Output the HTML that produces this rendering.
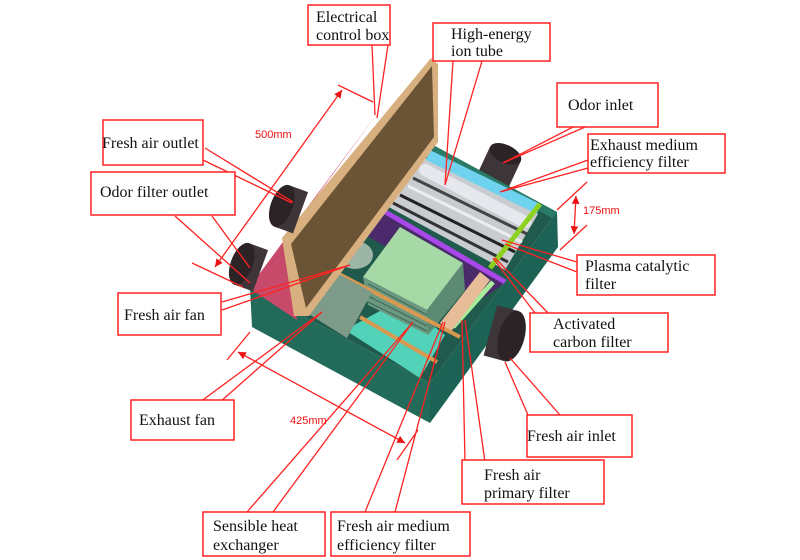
<!DOCTYPE html>
<html><head><meta charset="utf-8"><style>
html,body{margin:0;padding:0;background:#fff;}
svg{display:block;}
.lb{fill:#fff;stroke:#f22;stroke-width:1.5;}
.t{font-family:"Liberation Serif",serif;font-size:16px;fill:#111;}
.r{stroke:#f22;stroke-width:1.3;fill:none;}
.m{font-family:"Liberation Sans",sans-serif;font-size:11px;fill:#e11;}
</style></head><body>
<svg width="800" height="560" viewBox="0 0 800 560" xmlns="http://www.w3.org/2000/svg">
<defs>
<marker id="a" markerWidth="8" markerHeight="8" refX="6" refY="3" orient="auto"><path d="M0,0 L6,3 L0,6z" fill="#e11"/></marker>
<marker id="b" markerWidth="8" markerHeight="8" refX="0" refY="3" orient="auto"><path d="M6,0 L0,3 L6,6z" fill="#e11"/></marker>
</defs>
<!-- back duct -->
<g transform="rotate(25 497 172)">
<rect x="480" y="152" width="34" height="40" fill="#3e3538"/>
<ellipse cx="497" cy="152" rx="17" ry="9" fill="#2b2326"/>
</g>
<!-- box -->
<polygon points="250,288 433,145 557,212 430,383" fill="#1f5a4c"/>
<polygon points="250,288 430,383 430,423 252,327" fill="#226b5a"/>
<polygon points="430,383 557,212 558,247 430,423" fill="#1d6355"/>
<polygon points="433,145 557,212 552,218 433,155" fill="#2a7a68"/>
<polygon points="345,330 400,300 445,335 420,378" fill="#52d2b8"/>
<polygon points="360,232 382,210 505,283 480,300" fill="#4a2a6a"/>
<polygon points="425,158 538,214 505,270 385,205" fill="#c9ccd0"/>
<g stroke-width="3">
<line x1="400" y1="195" x2="515" y2="252" stroke="#222"/>
<line x1="393" y1="203" x2="508" y2="262" stroke="#333"/>
<line x1="408" y1="186" x2="522" y2="242" stroke="#eee"/>
<line x1="413" y1="178" x2="527" y2="234" stroke="#444"/>
</g>
<line x1="425" y1="170" x2="525" y2="222" stroke="#e6e8ee" stroke-width="12" stroke-linecap="round"/>
<polygon points="430,150 540,204 537,214 426,160" fill="#6fd2ee"/>
<line x1="382" y1="210" x2="505" y2="282" stroke="#a848e8" stroke-width="5"/>
<line x1="540" y1="204" x2="490" y2="268" stroke="#8ed020" stroke-width="5"/>
<line x1="493" y1="282" x2="453" y2="327" stroke="#a6ec9a" stroke-width="5"/>
<polygon points="440,323 480,272 490,280 450,333" fill="#e6bd98"/>
<polygon points="363,277 400,227 463,263 427,310" fill="#a6d9a6"/>
<polygon points="463,263 427,310 428,335 465,290" fill="#5d8a72"/>
<polygon points="363,277 427,310 428,335 368,305" fill="#6a9880"/>
<g stroke="#3c6655" stroke-width="1">
<line x1="368" y1="284" x2="427" y2="315"/><line x1="368" y1="290" x2="427" y2="320"/>
<line x1="368" y1="296" x2="427" y2="326"/><line x1="368" y1="302" x2="427" y2="331"/>
</g>
<ellipse cx="355" cy="255" rx="18" ry="14" fill="#9db5a4"/>
<line x1="337" y1="273" x2="460" y2="337" stroke="#d89a50" stroke-width="4"/>
<line x1="360" y1="317" x2="437" y2="362" stroke="#d89a50" stroke-width="4"/>
<polygon points="307,313 337,273 372,292 347,338" fill="#7e9a88"/>
<polygon points="249,288 380,110 283,240 297,320" fill="#c84a6a"/>
<polygon points="282,238 431,58 438,64 438,142 309,316 294,316" fill="#d8b080"/>
<polygon points="291,244 432,66 434,137 306,308" fill="#6b5436"/>
<!-- ducts -->
<g>
<g transform="rotate(20 293 210)"><rect x="281" y="188" width="20" height="44" fill="#3e3538"/><ellipse cx="281" cy="210" rx="11" ry="22" fill="#2b2326"/></g>
<g transform="rotate(20 253 268)"><rect x="241" y="246" width="20" height="44" fill="#3e3538"/><ellipse cx="241" cy="268" rx="11" ry="22" fill="#2b2326"/></g>
<g transform="rotate(15 500 333)"><rect x="490" y="307" width="22" height="52" fill="#3e3538"/><ellipse cx="512" cy="333" rx="13" ry="26" fill="#2b2326"/></g>
</g>
<line x1="342" y1="90" x2="215" y2="267" class="r" marker-end="url(#a)" marker-start="url(#b)"/>
<line x1="338" y1="85" x2="373" y2="102" class="r"/>
<line x1="192" y1="263" x2="243" y2="287" class="r"/>
<text x="255" y="138" class="m">500mm</text>
<line x1="576" y1="196" x2="574" y2="234" class="r" marker-end="url(#a)" marker-start="url(#b)"/>
<line x1="587" y1="182" x2="557" y2="210" class="r"/>
<line x1="587" y1="225" x2="560" y2="250" class="r"/>
<text x="583" y="214" class="m">175mm</text>
<line x1="238" y1="352" x2="405" y2="443" class="r" marker-end="url(#a)" marker-start="url(#b)"/>
<line x1="227" y1="360" x2="250" y2="332" class="r"/>
<line x1="397" y1="460" x2="418" y2="430" class="r"/>
<text x="290" y="424" class="m">425mm</text>
<g class="r">
<path d="M372,45 L375,115 M388,45 L377,118"/>
<path d="M453,61 L445,185 M482,61 L445,185"/>
<path d="M573,127 L503,163 M585,127 L503,163"/>
<path d="M588,160 L500,192 M588,168 L500,192"/>
<path d="M577,262 L502,240 M577,272 L505,244"/>
<path d="M535,313 L493,258 M548,313 L495,258"/>
<path d="M528,415 L505,362 M560,415 L510,358"/>
<path d="M465,462 L462,320 M485,462 L465,320"/>
<path d="M365,512 L443,322 M395,512 L445,322"/>
<path d="M247,512 L413,322 M273,512 L413,322"/>
<path d="M200,402 L322,312 M220,402 L322,312"/>
<path d="M222,302 L350,265 M222,310 L350,265"/>
<path d="M175,216 L250,283 M212,216 L250,268"/>
<path d="M205,148 L293,202 M203,160 L292,203"/>
</g>
<rect x="308" y="5" width="82" height="40" class="lb"/>
<text x="316" y="22" class="t">Electrical</text><text x="316" y="40" class="t">control box</text>
<rect x="433" y="23" width="117" height="38" class="lb"/>
<text x="451" y="39" class="t">High-energy</text><text x="451" y="56" class="t">ion tube</text>
<rect x="557" y="83" width="101" height="44" class="lb"/>
<text x="568" y="110" class="t">Odor inlet</text>
<rect x="588" y="134" width="137" height="39" class="lb"/>
<text x="590" y="150" class="t">Exhaust medium</text><text x="590" y="167" class="t">efficiency filter</text>
<rect x="577" y="255" width="138" height="40" class="lb"/>
<text x="585" y="271" class="t">Plasma catalytic</text><text x="585" y="289" class="t">filter</text>
<rect x="530" y="313" width="138" height="39" class="lb"/>
<text x="553" y="329" class="t">Activated</text><text x="553" y="347" class="t">carbon filter</text>
<rect x="527" y="415" width="105" height="42" class="lb"/>
<text x="527" y="441" class="t">Fresh air inlet</text>
<rect x="462" y="460" width="142" height="44" class="lb"/>
<text x="484" y="480" class="t">Fresh air</text><text x="484" y="498" class="t">primary filter</text>
<rect x="331" y="512" width="139" height="44" class="lb"/>
<text x="337" y="531" class="t">Fresh air medium</text><text x="337" y="550" class="t">efficiency filter</text>
<rect x="203" y="512" width="122" height="44" class="lb"/>
<text x="213" y="531" class="t">Sensible heat</text><text x="213" y="550" class="t">exchanger</text>
<rect x="131" y="400" width="103" height="40" class="lb"/>
<text x="139" y="425" class="t">Exhaust fan</text>
<rect x="118" y="293" width="103" height="42" class="lb"/>
<text x="124" y="320" class="t">Fresh air fan</text>
<rect x="91" y="172" width="144" height="43" class="lb"/>
<text x="100" y="197" class="t">Odor filter outlet</text>
<rect x="103" y="120" width="100" height="45" class="lb"/>
<text x="102" y="148" class="t">Fresh air outlet</text>
</svg>
</body></html>
